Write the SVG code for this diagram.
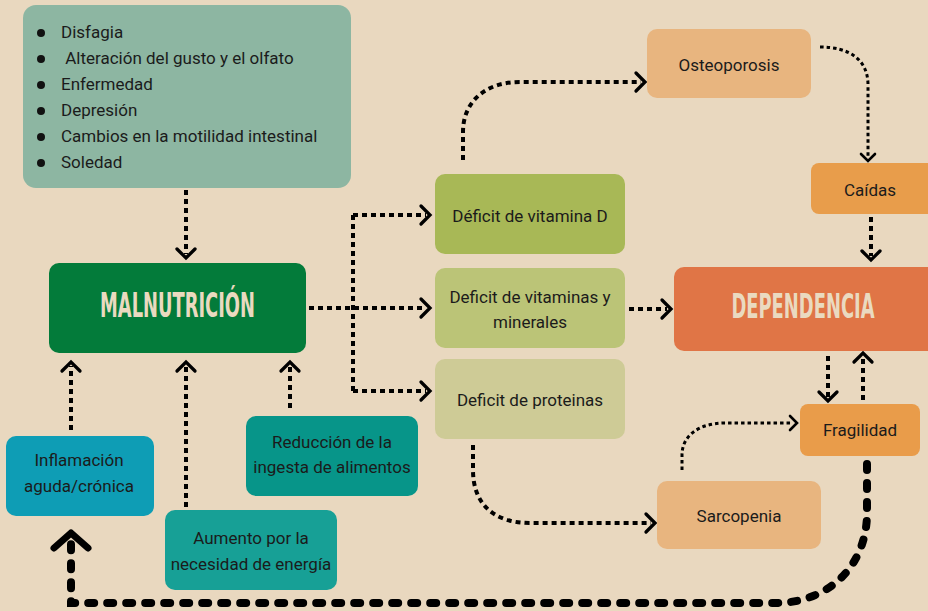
<svg xmlns="http://www.w3.org/2000/svg" width="928" height="611" viewBox="0 0 928 611">
<style>
.t{font-family:Roboto,"Liberation Sans",sans-serif;font-size:17px;fill:#1b1b1b}
.c{text-anchor:middle}
.h{font-family:"DejaVu Sans Condensed","DejaVu Sans",sans-serif;font-weight:bold;font-size:33px;fill:#EADAC0;text-anchor:middle}
.d{fill:none;stroke:#000;stroke-width:4;stroke-dasharray:5 4}
.dt{fill:none;stroke:#000;stroke-width:3;stroke-dasharray:3.5 3}
.dk{fill:none;stroke:#000;stroke-width:8;stroke-linecap:round;stroke-dasharray:6 13}
</style>
<defs>
<marker id="a" markerUnits="userSpaceOnUse" markerWidth="30" markerHeight="30" viewBox="-15 -15 30 30" refX="0" refY="0" orient="auto" overflow="visible">
<path d="M-5,-9 L4,0 L-5,9" fill="none" stroke="#000" stroke-width="3.3" stroke-linecap="round"/>
</marker>
<marker id="s" markerUnits="userSpaceOnUse" markerWidth="30" markerHeight="30" viewBox="-15 -15 30 30" refX="0" refY="0" orient="auto" overflow="visible">
<path d="M-3,-7 L4,0 L-3,7" fill="none" stroke="#000" stroke-width="2.6" stroke-linecap="round"/>
</marker>
<marker id="b" markerUnits="userSpaceOnUse" markerWidth="50" markerHeight="50" viewBox="-25 -25 50 50" refX="0" refY="0" orient="auto" overflow="visible">
<path d="M-8,-17 L7,0 L-8,17" fill="none" stroke="#000" stroke-width="7" stroke-linecap="round" stroke-linejoin="round"/>
</marker>
</defs>
<rect width="928" height="611" fill="#E9D8BF"/>

<g id="connectors">
<path class="d" d="M186,190 V254" marker-end="url(#a)"/>
<path class="d" d="M71,430 V366" marker-end="url(#a)"/>
<path class="d" d="M186,507 V366" marker-end="url(#a)"/>
<path class="d" d="M290,408 V366" marker-end="url(#a)"/>
<path class="d" d="M309,308 H426" marker-end="url(#a)"/>
<path class="d" d="M353,215 V391"/>
<path class="d" d="M353,215 H426" marker-end="url(#a)"/>
<path class="d" d="M353,391 H426" marker-end="url(#a)"/>
<path class="d" d="M629,309 H667" marker-end="url(#a)"/>
<path class="d" d="M463,160 V132 C463,102 485,82 520,82 H641" marker-end="url(#a)"/>
<path class="dt" d="M820,47 C850,47 868,60 868,85 V157" marker-end="url(#s)"/>
<path class="d" d="M871,217 V256" marker-end="url(#a)"/>
<path class="d" d="M828,356 V397" marker-end="url(#a)"/>
<path class="d" d="M863,400 V357" marker-end="url(#a)"/>
<path class="dt" d="M682,470 V455 C682,435 700,423 725,423 H793" marker-end="url(#s)"/>
<path class="d" d="M473,445 V470 C473,505 495,523 530,523 H651" marker-end="url(#a)"/>
<path class="dk" d="M867,464 V515 C866,565 830,603 775,603 H71 V540" marker-end="url(#b)"/>
</g>

<g id="factores">
<rect x="23" y="5" width="328" height="183" rx="13" fill="#8DB6A2"/>
<g fill="#111"><circle cx="41" cy="33" r="4"/><circle cx="41" cy="59" r="4"/><circle cx="41" cy="85" r="4"/><circle cx="41" cy="111" r="4"/><circle cx="41" cy="137" r="4"/><circle cx="41" cy="163" r="4"/></g>
<text class="t" x="61" y="38">Disfagia</text>
<text class="t" x="61" y="64" xml:space="preserve"> Alteración del gusto y el olfato</text>
<text class="t" x="61" y="90">Enfermedad</text>
<text class="t" x="61" y="116">Depresión</text>
<text class="t" x="61" y="142">Cambios en la motilidad intestinal</text>
<text class="t" x="61" y="168">Soledad</text>
</g>

<g id="malnutricion">
<rect x="49" y="263" width="257" height="90" rx="10" fill="#037B3A"/>
<text class="h" transform="translate(177.5,317) scale(0.62,1)" x="0" y="0" textLength="250" lengthAdjust="spacingAndGlyphs">MALNUTRICIÓN</text>
</g>

<g id="inflamacion">
<rect x="6" y="436" width="148" height="80" rx="10" fill="#0E9DB5"/>
<text class="t c" x="79" y="466">Inflamación</text>
<text class="t c" x="79" y="492">aguda/crónica</text>
</g>

<g id="aumento">
<rect x="165" y="510" width="172" height="80" rx="10" fill="#17A096"/>
<text class="t c" x="251" y="544">Aumento por la</text>
<text class="t c" x="251" y="570">necesidad de energía</text>
</g>

<g id="reduccion">
<rect x="246" y="416" width="172" height="80" rx="10" fill="#079589"/>
<text class="t c" x="332" y="448">Reducción de la</text>
<text class="t c" x="332" y="473">ingesta de alimentos</text>
</g>

<g id="vitd">
<rect x="435" y="174" width="190" height="80" rx="10" fill="#A8B856"/>
<text class="t c" x="530" y="222">Déficit de vitamina D</text>
</g>

<g id="vitmin">
<rect x="435" y="268" width="190" height="80" rx="10" fill="#BBC477"/>
<text class="t c" x="530" y="303">Deficit de vitaminas y</text>
<text class="t c" x="530" y="328">minerales</text>
</g>

<g id="proteinas">
<rect x="435" y="359" width="190" height="80" rx="10" fill="#CECB96"/>
<text class="t c" x="530" y="406">Deficit de proteinas</text>
</g>

<g id="osteoporosis">
<rect x="647" y="29" width="164" height="69" rx="10" fill="#E8B57F"/>
<text class="t c" x="729" y="71">Osteoporosis</text>
</g>

<g id="caidas">
<rect x="811" y="163" width="125" height="51" rx="8" fill="#E89D4B"/>
<text class="t c" x="870" y="196">Caídas</text>
</g>

<g id="dependencia">
<rect x="674" y="267" width="270" height="84" rx="10" fill="#E07546"/>
<text class="h" transform="translate(803,318) scale(0.62,1)" x="0" y="0" textLength="231" lengthAdjust="spacingAndGlyphs">DEPENDENCIA</text>
</g>

<g id="fragilidad">
<rect x="800" y="404" width="120" height="52" rx="8" fill="#E99C4A"/>
<text class="t c" x="860" y="436">Fragilidad</text>
</g>

<g id="sarcopenia">
<rect x="657" y="481" width="164" height="68" rx="10" fill="#E8B57F"/>
<text class="t c" x="739" y="522">Sarcopenia</text>
</g>
</svg>
